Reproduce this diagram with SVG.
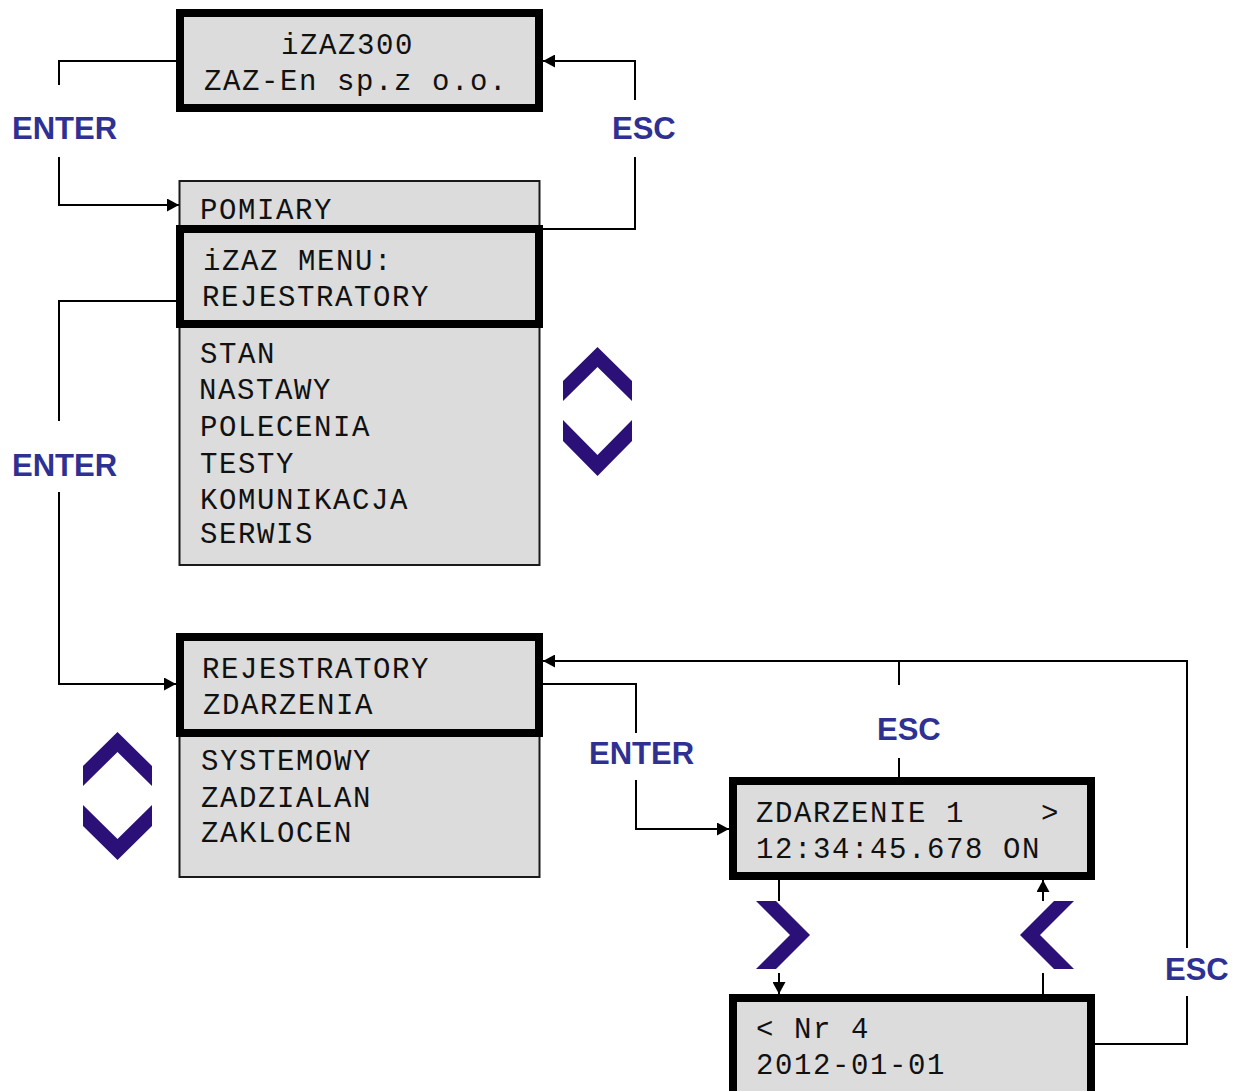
<svg xmlns="http://www.w3.org/2000/svg" width="1240" height="1091" viewBox="0 0 1240 1091">
  <style>
    .lcd { fill: #dcdcdc; stroke: #000; stroke-width: 8; }
    .list { fill: #dcdcdc; stroke: #1a1a1a; stroke-width: 2; }
    .t { font-family: "Liberation Mono", "Courier New", monospace; font-size: 29px; letter-spacing: 1.6px; fill: #111; }
    .key { font-family: "Liberation Sans", Arial, sans-serif; font-weight: bold; font-size: 31px; fill: #2e3192; }
    .wire { fill: none; stroke: #000; stroke-width: 2; }
    .chev { fill: #2b1078; }
  </style>
  <defs>
    <marker id="arrow" viewBox="0 0 12 13" refX="12" refY="6.5" markerWidth="12" markerHeight="13" markerUnits="userSpaceOnUse" orient="auto">
      <path d="M0,0 L12,6.5 L0,13 Z" fill="#000"/>
    </marker>
  </defs>

  <!-- connectors -->
  <g id="connectors">
    <!-- ENTER: start screen to main menu -->
    <path class="wire" d="M176,61 H59 V85"/>
    <path class="wire" d="M59,157 V205 H179" marker-end="url(#arrow)"/>
    <!-- ESC: main menu back to start screen -->
    <path class="wire" d="M543,229 H635 V157"/>
    <path class="wire" d="M635,100 V61 H543" marker-end="url(#arrow)"/>
    <!-- ENTER: menu to recorders -->
    <path class="wire" d="M176,301 H59 V421"/>
    <path class="wire" d="M59,492 V684 H176" marker-end="url(#arrow)"/>
    <!-- ENTER: recorders to event view -->
    <path class="wire" d="M543,684 H636 V733"/>
    <path class="wire" d="M636,780 V829 H729" marker-end="url(#arrow)"/>
    <!-- ESC: event view back to recorders -->
    <path class="wire" d="M899,777 V758"/>
    <path class="wire" d="M899,685 V661"/>
    <path class="wire" d="M1187,948 V661 H543" marker-end="url(#arrow)"/>
    <path class="wire" d="M1095,1044 H1187 V996"/>
    <!-- paging between event screens -->
    <path class="wire" d="M779,880 V901"/>
    <path class="wire" d="M779,973 V994" marker-end="url(#arrow)"/>
    <path class="wire" d="M1043,994 V973"/>
    <path class="wire" d="M1043,901 V880" marker-end="url(#arrow)"/>
  </g>

  <!-- key labels -->
  <g id="keys">
    <text class="key" x="12" y="139">ENTER</text>
    <text class="key" x="612" y="139">ESC</text>
    <text class="key" x="12" y="476">ENTER</text>
    <text class="key" x="589" y="764">ENTER</text>
    <text class="key" x="877" y="740">ESC</text>
    <text class="key" x="1165" y="980">ESC</text>
  </g>

  <!-- start screen -->
  <g id="start-screen">
    <rect class="lcd" x="180" y="13" width="359" height="95"/>
    <text class="t" x="281" y="54">iZAZ300</text>
    <text class="t" x="204" y="90">ZAZ-En sp.z o.o.</text>
  </g>

  <!-- main menu list -->
  <g id="main-menu">
    <rect class="list" x="179.5" y="181" width="360" height="384"/>
    <text class="t" x="200" y="219">POMIARY</text>
    <text class="t" x="200" y="363">STAN</text>
    <text class="t" x="199" y="399">NASTAWY</text>
    <text class="t" x="200" y="436">POLECENIA</text>
    <text class="t" x="200" y="473">TESTY</text>
    <text class="t" x="200" y="509">KOMUNIKACJA</text>
    <text class="t" x="200" y="543">SERWIS</text>
  </g>
  <g id="main-menu-screen">
    <rect class="lcd" x="180" y="229" width="359" height="95"/>
    <text class="t" x="203" y="270">iZAZ MENU:</text>
    <text class="t" x="202" y="306">REJESTRATORY</text>
  </g>

  <!-- recorders list -->
  <g id="recorders">
    <rect class="list" x="179.5" y="733" width="360" height="144"/>
    <text class="t" x="201" y="770">SYSTEMOWY</text>
    <text class="t" x="201" y="807">ZADZIALAN</text>
    <text class="t" x="201" y="842">ZAKLOCEN</text>
  </g>
  <g id="recorders-screen">
    <rect class="lcd" x="180" y="637" width="359" height="96"/>
    <text class="t" x="202" y="678">REJESTRATORY</text>
    <text class="t" x="203" y="714">ZDARZENIA</text>
  </g>

  <!-- event screen -->
  <g id="event-screen">
    <rect class="lcd" x="733" y="781" width="358" height="95"/>
    <text class="t" x="756" y="822" xml:space="preserve">ZDARZENIE 1    &gt;</text>
    <text class="t" x="756" y="858">12:34:45.678 ON</text>
  </g>

  <!-- event detail screen -->
  <g id="event-detail">
    <rect class="lcd" x="733" y="998" width="358" height="110"/>
    <text class="t" x="756" y="1038" xml:space="preserve">&lt; Nr 4</text>
    <text class="t" x="756" y="1074">2012-01-01</text>
  </g>

  <!-- navigation keys -->
  <g id="menu-updown">
    <polygon class="chev" points="597.5,347 632,381 632,401 597.5,367 563,401 563,381"/>
    <polygon class="chev" points="563,420 597.5,455 632,420 632,441 597.5,476 563,441"/>
  </g>
  <g id="recorders-updown">
    <polygon class="chev" points="117.5,732 152,766 152,786 117.5,752 83,786 83,766"/>
    <polygon class="chev" points="83,805 117.5,839 152,805 152,826 117.5,860 83,826"/>
  </g>
  <g id="key-right">
    <polygon class="chev" points="756,901 776,901 810,935 776,969 756,969 790,935"/>
  </g>
  <g id="key-left">
    <polygon class="chev" points="1074,901 1054,901 1020,935 1054,969 1074,969 1040,935"/>
  </g>
</svg>
